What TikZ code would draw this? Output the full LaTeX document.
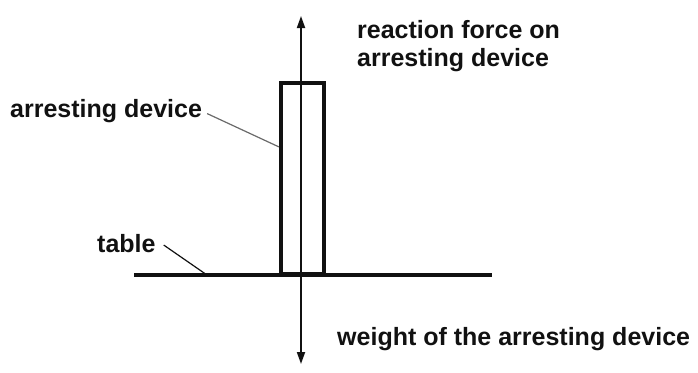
\documentclass[tikz,border=0pt]{standalone}
\usepackage{fontspec}
\setmainfont{Liberation Sans}
\usepackage{xcolor}
\definecolor{inkblack}{HTML}{111111}
\definecolor{leadgray}{HTML}{6A6A6A}
\usepackage{tikz}
\usetikzlibrary{positioning, arrows.meta}

\begin{document}
\begin{tikzpicture}[x=1pt, y=-1pt]
    \tikzstyle{labeltext} = [inner sep=0pt, text=inkblack, font=\fontsize{25}{28}\selectfont\bfseries]
    \tikzstyle{devicebox} = [draw=inkblack, line width=4.2pt, minimum width=43pt, minimum height=191pt, inner sep=0pt]
    \tikzstyle{force} = [-{Triangle[length=12pt,width=8pt]}, line width=1.8pt, inkblack]
    \tikzstyle{leader} = [line width=1.2pt]

    \useasboundingbox (0,0) rectangle (698,372);

    % table and arresting device
    \coordinate (tableleft) at (134,275);
    \coordinate (tableright) at (492,275);
    \draw [line width=4.5pt, inkblack] (tableleft) -- (tableright);
    \node [devicebox] (device) at (302.5,178.5) {};

    % forces
    \coordinate (contact) at (301,275);
    \coordinate (up) at (301,16);
    \coordinate (down) at (301,364);
    \draw [force] (contact) -- (up);
    \draw [force] (contact) -- (down);

    % labels
    \node [labeltext, anchor=north west, align=left] (reaction) at (357,20) {reaction force on\\arresting device};
    \node [labeltext, anchor=base west] (devlabel) at (10,117) {arresting device};
    \node [labeltext, anchor=base west] (tablelabel) at (97,252) {table};
    \node [labeltext, anchor=base west] (weight) at (337,345) {weight of the arresting device};

    \draw [leader, leadgray] ([xshift=5pt,yshift=-3pt]devlabel.east) -- ([yshift=-66pt]device.north west);
    \draw [leader, inkblack] ([xshift=8pt,yshift=-2pt]tablelabel.east) -- ([xshift=73pt]tableleft);

\end{tikzpicture}
\end{document}
